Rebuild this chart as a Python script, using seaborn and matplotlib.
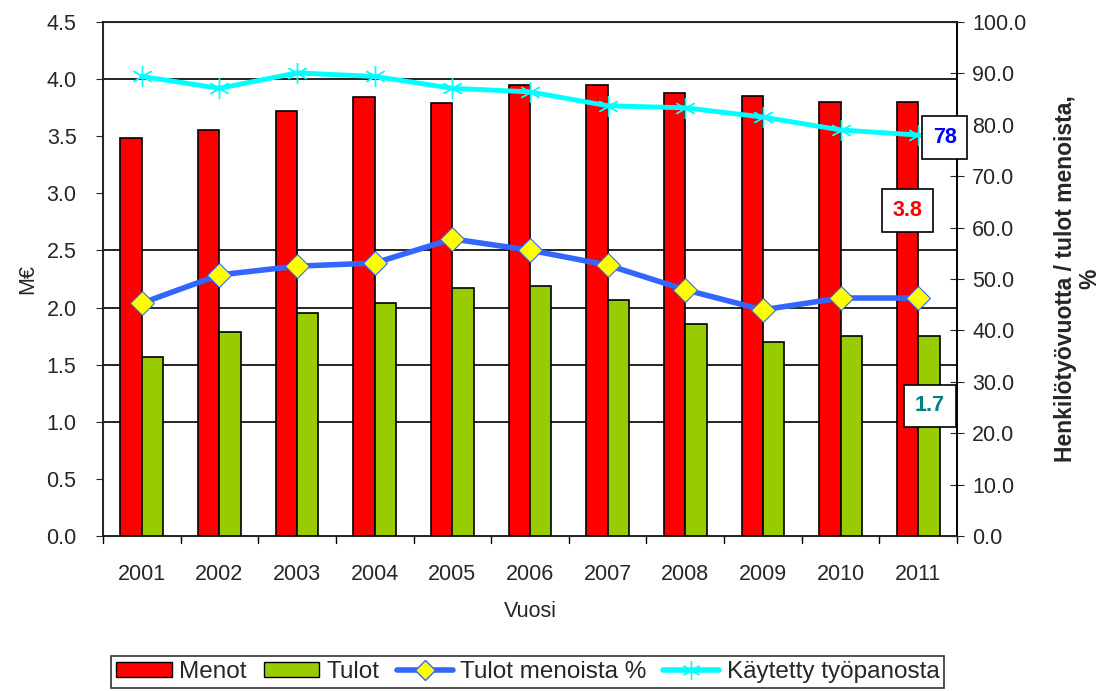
import numpy as np
import pandas as pd
import matplotlib
matplotlib.use("Agg")
import matplotlib.pyplot as plt
import seaborn as sns
from matplotlib.patches import Patch
from matplotlib.lines import Line2D

years = ["2001", "2002", "2003", "2004", "2005", "2006", "2007", "2008", "2009", "2010", "2011"]
menot = [3.48, 3.55, 3.72, 3.84, 3.79, 3.95, 3.95, 3.88, 3.85, 3.80, 3.80]
tulot = [1.57, 1.79, 1.95, 2.04, 2.17, 2.19, 2.07, 1.86, 1.70, 1.75, 1.75]
tulot_pct = [45.3, 50.8, 52.5, 53.1, 57.8, 55.6, 52.7, 47.9, 44.0, 46.3, 46.3]
tyopanos = [89.4, 87.1, 90.1, 89.4, 87.1, 86.4, 83.7, 83.3, 81.5, 79.0, 78.0]

sns.set_style("white")
plt.rcParams['font.family'] = ['Liberation Sans', 'DejaVu Sans']
FS = 15.5

bars = pd.DataFrame({
    "Vuosi": years * 2,
    "value": menot + tulot,
    "series": ["Menot"] * len(years) + ["Tulot"] * len(years),
})
lines = pd.DataFrame({
    "pos": np.arange(len(years)),
    "pct": tulot_pct,
    "tyo": tyopanos,
})

RED, GREEN, BLUE, CYAN = "#ff0000", "#99cc00", "#3366ff", "#00ffff"

fig = plt.figure(figsize=(11.06, 6.91), dpi=100)
ax = fig.add_axes([0.0931, 0.2243, 0.7722, 0.7439])

sns.barplot(data=bars, x="Vuosi", y="value", hue="series",
            palette={"Menot": RED, "Tulot": GREEN}, saturation=1, width=0.55, gap=0,
            edgecolor="black", linewidth=1.2, legend=False, ax=ax, zorder=3)
ax.set_ylim(0, 4.5)
ax.set_xlim(-0.5, len(years) - 0.5)
ax.set_yticks(np.arange(0, 4.51, 0.5))
ax.set_yticklabels([f"{v:.1f}" for v in np.arange(0, 4.51, 0.5)], fontsize=FS)
ax.set_xticks(range(len(years)))
ax.set_xticklabels(years, fontsize=FS)
ax.tick_params(axis="x", length=0, pad=20)
ax.tick_params(axis="y", length=5, direction="out", left=True, pad=14)
for v in [1.0, 1.5, 2.0, 2.5, 4.0]:
    ax.axhline(v, color="black", lw=1.2, zorder=1)
# category boundary ticks
for b in np.arange(-0.5, len(years), 1.0):
    ax.plot([b, b], [0, -0.06], color="black", lw=1, clip_on=False, zorder=4)
ax.set_xlabel("Vuosi", fontsize=FS, labelpad=12)
ax.set_ylabel("M€", fontsize=FS, labelpad=6)
for s in ax.spines.values():
    s.set_color("black")
    s.set_linewidth(1.2)

ax2 = ax.twinx()
sns.lineplot(data=lines, x="pos", y="tyo", color=CYAN, lw=3.5, marker=(6, 2, 0),
             markersize=15, markeredgecolor=CYAN, markeredgewidth=1, ax=ax2, zorder=5)
sns.lineplot(data=lines, x="pos", y="pct", color=BLUE, lw=4, marker="D",
             markersize=12, markerfacecolor="#ffff00", markeredgecolor=BLUE,
             markeredgewidth=0.8, ax=ax2, zorder=6)
ax2.set_ylim(0, 100)
ax2.set_yticks(np.arange(0, 101, 10))
ax2.set_yticklabels([f"{v:.1f}" for v in np.arange(0, 101, 10)], fontsize=FS)
ax2.tick_params(axis="y", length=10, direction="inout", right=True, pad=6)
ax2.set_ylabel("Henkilötyövuotta / tulot menoista,\n%", fontsize=16.5,
               fontweight="bold", labelpad=20, linespacing=1.05)
ax2.spines["right"].set_color("black")
ax2.spines["right"].set_linewidth(1.2)

# value labels for the last year
last = len(years) - 1
box = dict(boxstyle="square,pad=0.5", fc="white", ec="black", lw=1.2)
ax2.text(last + 0.34, tyopanos[-1] - 0.5, f"{tyopanos[-1]:.0f}", color="#0000ff",
         fontsize=FS, fontweight="bold", ha="center", va="center", bbox=box, zorder=8)
ax.text(last - 0.14, 2.85, f"{menot[-1]:.1f}", color=RED, fontsize=FS,
        fontweight="bold", ha="center", va="center", bbox=box, zorder=8)
ax.text(last + 0.15, 1.14, "1.7", color="#008080", fontsize=FS,
        fontweight="bold", ha="center", va="center", bbox=box, zorder=8)

handles = [
    Patch(facecolor=RED, edgecolor="black", label="Menot"),
    Patch(facecolor=GREEN, edgecolor="black", label="Tulot"),
    Line2D([], [], color=BLUE, lw=4, marker="D", markersize=10,
           markerfacecolor="#ffff00", markeredgecolor=BLUE, label="Tulot menoista %"),
    Line2D([], [], color=CYAN, lw=4, marker=(6, 2, 0), markersize=13,
           markeredgecolor=CYAN, label="Käytetty työpanosta"),
]
leg = fig.legend(handles=handles, loc="lower center", bbox_to_anchor=(0.477, -0.013),
                 ncol=4, fontsize=17.5, frameon=True, fancybox=False,
                 handlelength=2.3, handleheight=0.6, handletextpad=0.3,
                 columnspacing=0.7, borderpad=0.2)
leg.get_frame().set_edgecolor("black")
leg.get_frame().set_linewidth(1.2)

fig.savefig("out.png", dpi=100)
